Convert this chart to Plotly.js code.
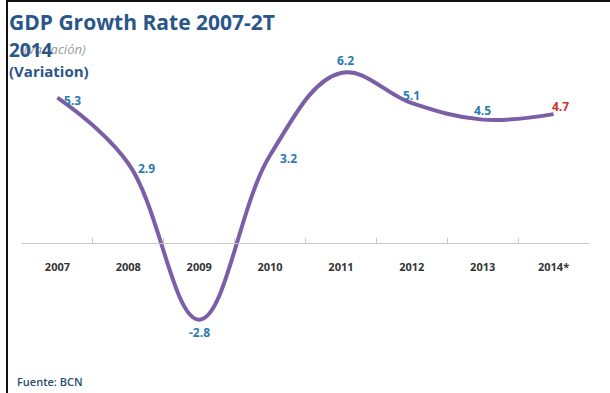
<!DOCTYPE html>
<html>
<head>
<meta charset="utf-8">
<script src="https://cdn.plot.ly/plotly-3.0.1.min.js"></script>
<style>
html,body{margin:0;padding:0;background:#fff;}
#wrap{position:relative;width:610px;height:393px;}
#chart{width:610px;height:393px;}
.bl{position:absolute;left:6px;top:0;width:2px;height:393px;background:#111;}
.bt{position:absolute;left:6px;top:0;width:604px;height:2px;background:#111;}
</style>
</head>
<body>
<div id="wrap"><div id="chart"></div><div class="bl"></div><div class="bt"></div></div>
<script>
var years = ["2007","2008","2009","2010","2011","2012","2013","2014*"];
var growth = [5.3, 2.9, -2.8, 3.2, 6.2, 5.1, 4.5, 4.7];
var labelColors = ["#2b7bb0","#2b7bb0","#2b7bb0","#2b7bb0","#2b7bb0","#2b7bb0","#2b7bb0","#d0322e"];
var labelShiftX = [15, 18, 0, 18, 5, 0, 0, 7];
var labelShiftY = [-3, -5, -13, -3, 13, 8, 9, 8];

var yMin = -4.27, yMax = 7.04;

var annotations = years.map(function(y, i){
  return {x: i, y: growth[i], xref:'x', yref:'y', text: growth[i].toFixed(1), showarrow:false,
    xshift: labelShiftX[i], yshift: labelShiftY[i],
    font:{family:'Open Sans, sans-serif', size:12, color: labelColors[i], weight:700}};
});
annotations.push({xref:'paper', yref:'paper', x:0.0, y:1, xanchor:'left', yanchor:'top', showarrow:false,
  text:'<i>(Variación)</i>', font:{family:'Open Sans, sans-serif', size:13, color:'#9a9a9a'},
  yshift: 12, xshift: 0});
annotations.push({xref:'paper', yref:'paper', x:-0.027, y:1, xanchor:'left', yanchor:'bottom', showarrow:false,
  text:'GDP Growth Rate 2007-2T', align:'left', font:{family:'Open Sans, sans-serif', size:21, color:'#2a5689', weight:700},
  yshift: 12, xshift: 0});
annotations.push({xref:'paper', yref:'paper', x:-0.027, y:1, xanchor:'left', yanchor:'top', showarrow:false,
  text:'2014', font:{family:'Open Sans, sans-serif', size:19, color:'#2a5689', weight:700},
  yshift: 15, xshift: 0});
annotations.push({xref:'paper', yref:'paper', x:-0.027, y:1, xanchor:'left', yanchor:'top', showarrow:false,
  text:'(Variation)', font:{family:'Open Sans, sans-serif', size:15, color:'#2a5689', weight:700},
  yshift: -9, xshift: 0});
annotations.push({xref:'paper', yref:'paper', x:-0.013, y:0, xanchor:'left', yanchor:'top', showarrow:false,
  text:'Fuente: BCN', font:{family:'Open Sans, sans-serif', size:11, color:'#2a4a70', weight:600},
  yshift: -12, xshift: 0});

var trace = {
  x: years, y: growth, type:'scatter', mode:'lines',
  line:{color:'#7b5fa6', width:4, shape:'spline', smoothing:1.1},
  hoverinfo:'skip'
};

var layout = {
  width:610, height:393,
  margin:{l:22, r:21, t:50, b:33},
  paper_bgcolor:'#fff', plot_bgcolor:'#fff',
  showlegend:false,
  xaxis:{type:'category', range:[-0.5,7.5], anchor:'free', position: -yMin/(yMax-yMin),
    showline:true, linecolor:'#c8c8c8', linewidth:1, showgrid:false, zeroline:false,
    ticks:'inside', tickson:'boundaries', ticklen:5, tickcolor:'#c8c8c8',
    ticklabelstandoff: 14,
    tickfont:{family:'Open Sans, sans-serif', size:11, color:'#333', weight:700}},
  yaxis:{range:[yMin,yMax], visible:false, showgrid:false, zeroline:false},
  annotations: annotations
};

Plotly.newPlot('chart', [trace], layout, {displayModeBar:false, staticPlot:true});
</script>
</body>
</html>
